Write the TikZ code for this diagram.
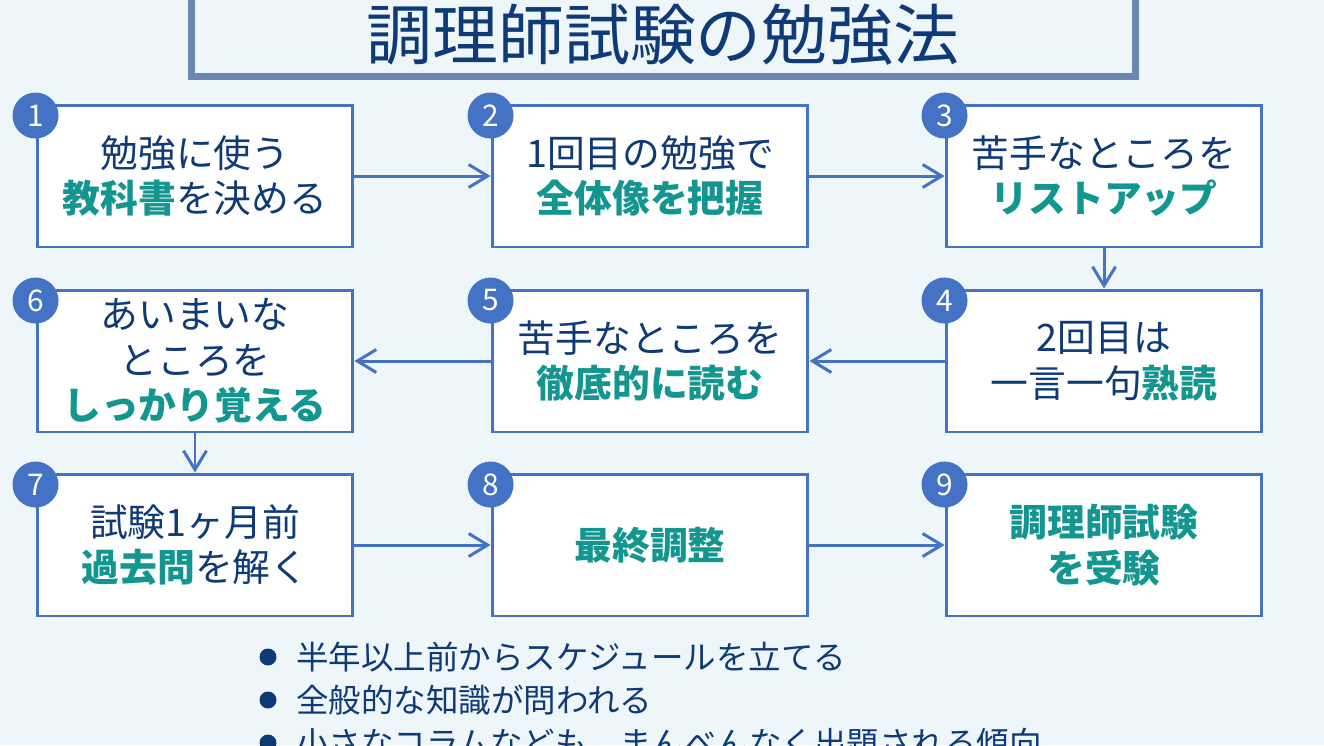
\documentclass[tikz,border=0pt]{standalone}
\usepackage{fontspec}
\setmainfont{Noto Sans CJK JP}
\usetikzlibrary{arrows.meta,positioning}
\definecolor{navy}{HTML}{0E3A78}
\definecolor{teal}{HTML}{13968F}
\definecolor{line}{HTML}{4472C4}
\definecolor{frame}{HTML}{6B87B1}
\definecolor{bg}{HTML}{EEF6F9}
\newcommand{\kw}[1]{{\bfseries\color{teal}#1}}
\tikzset{
  stepbox/.style={draw=line, line width=1.7pt, fill=white, minimum width=6.32cm,
    minimum height=2.84cm, align=center, text=navy,
    font=\fontsize{21.5}{26}\selectfont},
  num/.style={circle, fill=line, text=white, minimum size=0.92cm, inner sep=0pt,
    font=\fontsize{17}{17}\selectfont},
  arr/.style={line, line width=1.7pt, -{Straight Barb[length=0.38cm,width=0.46cm,line width=1.7pt]}},
  dot/.style={circle, fill=navy, minimum size=0.34cm, inner sep=0pt},
  item/.style={text=navy, anchor=west, inner sep=0pt, font=\fontsize{18.5}{20}\selectfont}
}
\begin{document}
\begin{tikzpicture}[x=0.02cm, y=-0.02cm]
\useasboundingbox (0,0) rectangle (1324,745);
\clip (0,0) rectangle (1324,745);
\fill[bg] (0,0) rectangle (1324,745);

\draw[frame, line width=4pt, fill=bg] (191.5,-20) rectangle (1135.5,76.5);
\node[text=navy, font=\fontsize{37.5}{40}\selectfont] (title) at (663,35) {調理師試験の勉強法};

\node[stepbox] (b1) at (195,176) {勉強に使う\\\kw{教科書}を決める};
\node[stepbox] (b2) at (650,176) {1回目の勉強で\\\kw{全体像を把握}};
\node[stepbox] (b3) at (1104,176) {苦手なところを\\\kw{リストアップ}};
\node[stepbox] (b4) at (1104,361) {2回目は\\一言一句\kw{熟読}};
\node[stepbox] (b5) at (650,361) {苦手なところを\\\kw{徹底的に読む}};
\node[stepbox] (b6) at (195,361) {あいまいな\\ところを\\\kw{しっかり覚える}};
\node[stepbox] (b7) at (195,545) {試験1ヶ月前\\\kw{過去問}を解く};
\node[stepbox] (b8) at (650,545) {\kw{最終調整}};
\node[stepbox] (b9) at (1104,545) {\kw{調理師試験}\\\kw{を受験}};

\foreach \i in {1,...,9}
  \node[num] (n\i) at ([yshift=-0.24cm]b\i.north west) {\i};

\draw[arr] (b1) -- (b2);
\draw[arr] (b2) -- (b3);
\draw[arr] (b3) -- (b4);
\draw[arr] (b4) -- (b5);
\draw[arr] (b5) -- (b6);
\draw[arr] (b6) -- (b7);
\draw[arr] (b7) -- (b8);
\draw[arr] (b8) -- (b9);

\node[dot] (d1) at (268,657) {};
\node[dot] (d2) at (268,700) {};
\node[dot] (d3) at (268,743) {};
\node[item, right=0.38cm of d1] (t1) {半年以上前からスケジュールを立てる};
\node[item, right=0.38cm of d2] (t2) {全般的な知識が問われる};
\node[item, right=0.38cm of d3] (t3) {小さなコラムなども、まんべんなく出題される傾向};
\end{tikzpicture}
\end{document}
